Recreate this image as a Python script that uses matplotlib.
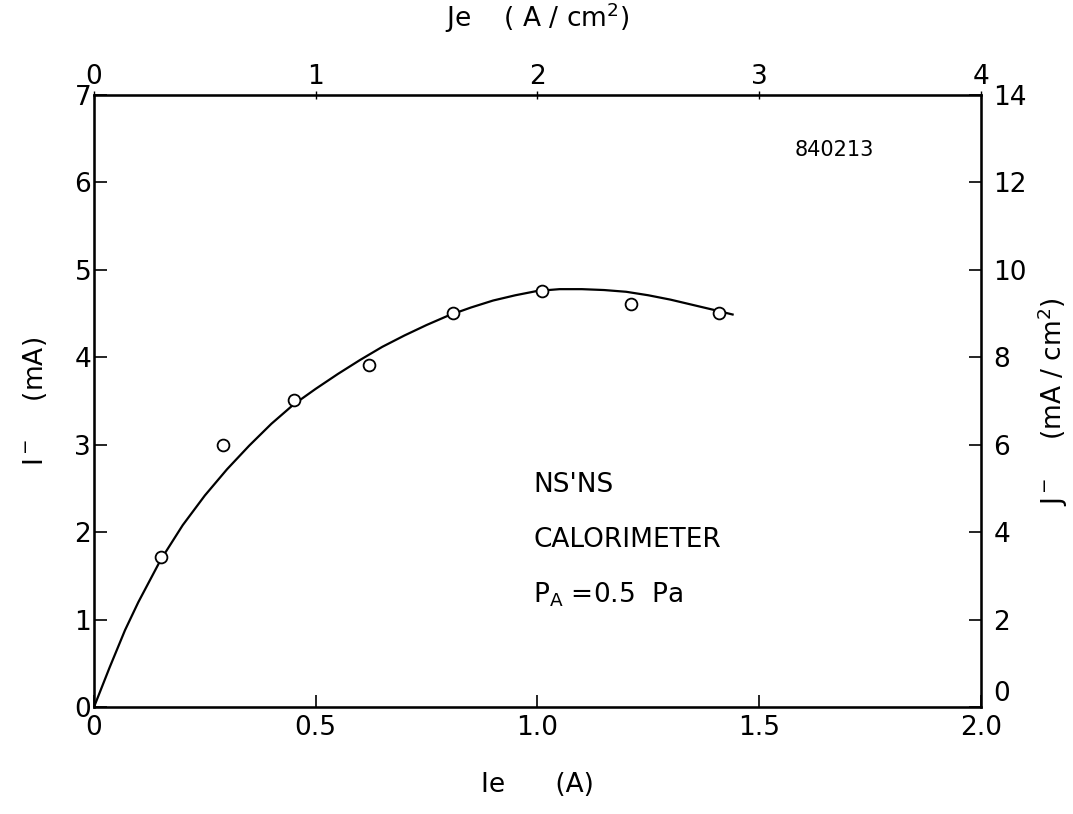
import numpy as np
import matplotlib.pyplot as plt

# measured points: Ie (A) vs I- (mA)
ie_pts = [0.15, 0.29, 0.45, 0.62, 0.81, 1.01, 1.21, 1.41]
im_pts = [1.72, 3.00, 3.51, 3.91, 4.51, 4.76, 4.61, 4.51]

# hand-drawn fit curve
ie_fit = [0.0, 0.035, 0.07, 0.10, 0.15, 0.20, 0.25, 0.30, 0.35, 0.40, 0.45,
          0.50, 0.55, 0.60, 0.65, 0.70, 0.75, 0.80, 0.85, 0.90, 0.95, 1.00,
          1.05, 1.10, 1.15, 1.20, 1.25, 1.30, 1.35, 1.40, 1.44]
im_fit = [0.0, 0.45, 0.88, 1.20, 1.68, 2.08, 2.42, 2.72, 2.99, 3.24, 3.46,
          3.64, 3.81, 3.97, 4.12, 4.25, 4.37, 4.48, 4.57, 4.65, 4.71, 4.76,
          4.78, 4.78, 4.77, 4.75, 4.71, 4.66, 4.60, 4.54, 4.49]

x_ticks = [0, 0.5, 1.0, 1.5, 2.0]
x_labels = ['0', '0.5', '1.0', '1.5', '2.0']
je_labels = ['0', '1', '2', '3', '4']
y_ticks = [0, 1, 2, 3, 4, 5, 6, 7]
j_labels = ['0', '2', '4', '6', '8', '10', '12', '14']

plt.rcParams['font.family'] = ['DejaVu Sans']
fs = 19

fig = plt.figure(figsize=(10.73, 8.14), dpi=100)
ax = fig.add_axes([0.0876, 0.1314, 0.8266, 0.7518])

ax.plot(ie_fit, im_fit, color='black', lw=1.6)
ax.plot(ie_pts, im_pts, 'o', mfc='white', mec='black', ms=8.5, mew=1.3)

ax.set_xlim(0, 2.0)
ax.set_ylim(0, 7)
for s in ax.spines.values():
    s.set_linewidth(1.8)

ax.set_xticks(x_ticks)
ax.set_xticklabels(x_labels)
ax.set_yticks(y_ticks)
ax.tick_params(axis='both', direction='in', length=9, width=1.2,
               labelsize=fs, pad=2)
ax.tick_params(axis='x', pad=6)

# top axis: Je (A/cm2)
top = ax.twiny()
top.set_xlim(ax.get_xlim())
top.set_xticks(x_ticks)
top.set_xticklabels(je_labels)
top.tick_params(direction='inout', length=6, width=1, labelsize=fs, pad=1)
top.set_xlabel(r'Je    ( A / cm$^2$)', fontsize=fs, labelpad=26)

# right axis: J- (mA/cm2)
right = ax.twinx()
right.set_ylim(ax.get_ylim())
right.set_yticks(y_ticks)
right.set_yticklabels(j_labels)
right.tick_params(direction='in', length=9, width=1.2, labelsize=fs, pad=9)
right.get_yticklabels()[0].set_verticalalignment('bottom')
right.set_ylabel(r'J$^-$    (mA / cm$^2$)', fontsize=fs, labelpad=6)

ax.set_xlabel('Ie      (A)', fontsize=fs, labelpad=22)
ax.set_ylabel(r'I$^-$    (mA)', fontsize=fs, labelpad=18)

ax.text(1.58, 6.3, '840213', fontsize=15)
ax.text(0.99, 2.46, "NS'NS", fontsize=fs)
ax.text(0.99, 1.83, 'CALORIMETER', fontsize=fs)
ax.text(0.99, 1.20, r'P$_\mathrm{A}$ =0.5  Pa', fontsize=fs)

fig.savefig('out.png', dpi=100)
